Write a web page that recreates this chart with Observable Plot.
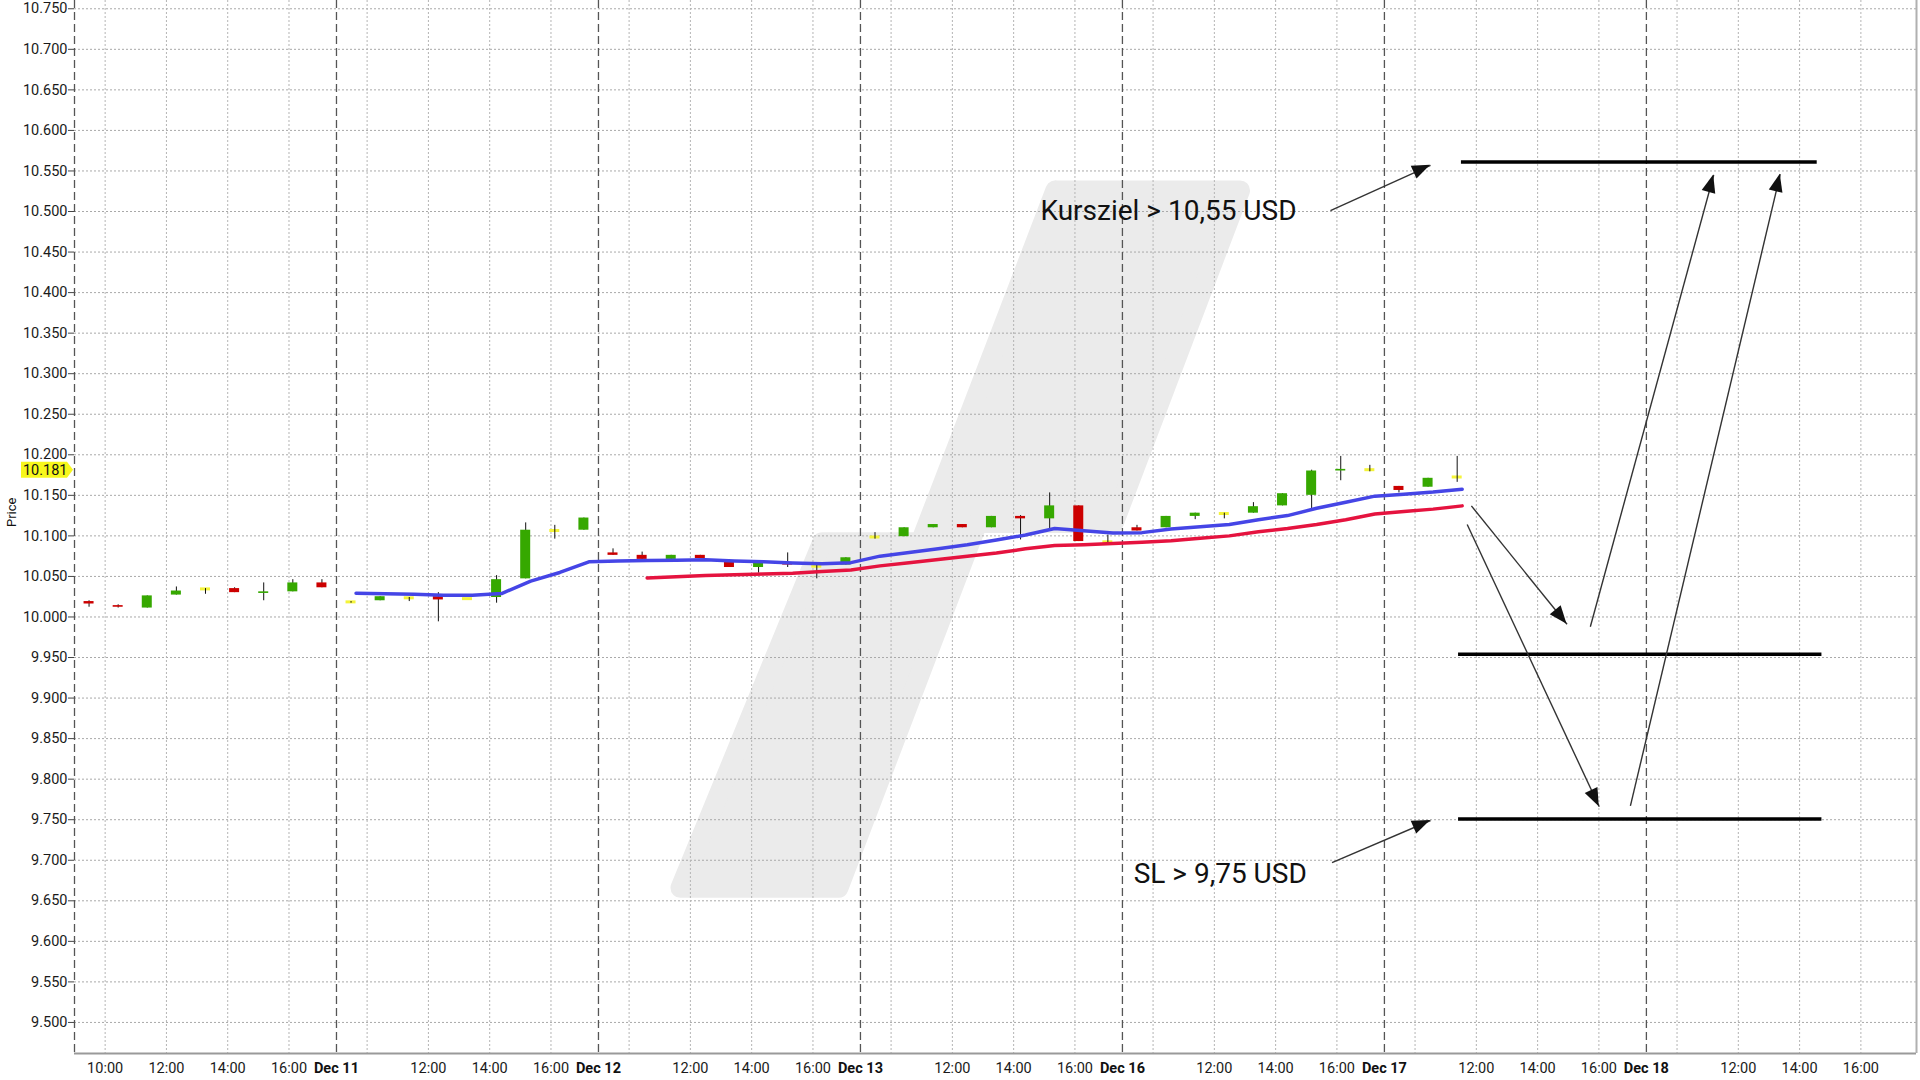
<!DOCTYPE html>
<html>
<head>
<meta charset="utf-8">
<script src="https://cdn.jsdelivr.net/npm/d3@7"></script>
<script src="https://cdn.jsdelivr.net/npm/@observablehq/plot@0.6"></script>
<style>
  html, body { margin: 0; padding: 0; background: #fff; overflow: hidden; }
  svg { display: block; }
</style>
</head>
<body>
<div id="chart"></div>
<script>
// ---------- DATA ----------
const dayLabels = ["Dec 10", "Dec 11", "Dec 12", "Dec 13", "Dec 16", "Dec 17", "Dec 18"];
const hourLabels = ["10:00", "12:00", "14:00", "16:00"];
const hourOfDay = [10, 12, 14, 16];
const SESSION_START = 9;      // session opens 9:00
const SESSION_HOURS = 8.55;   // length of one trading day on the axis
const SLOTS_PER_DAY = 9;      // hourly candles per day

// hourly candles (Dec 10 .. Dec 17)
const open = [
  10.019, 10.014, 10.011, 10.027, 10.034, 10.035, 10.029, 10.031, 10.042,
  10.018, 10.020, 10.023, 10.025, 10.022, 10.024, 10.047, 10.106, 10.107,
  10.079, 10.076, 10.071, 10.076, 10.068, 10.061, 10.066, 10.062, 10.064,
  10.098, 10.099, 10.110, 10.114, 10.110, 10.124, 10.121, 10.137, 10.092,
  10.110, 10.110, 10.124, 10.127, 10.128, 10.137, 10.150, 10.180, 10.181,
  10.161, 10.160, 10.172
];
const high = [
  10.020, 10.015, 10.026, 10.037, 10.035, 10.036, 10.042, 10.046, 10.046,
  10.019, 10.025, 10.024, 10.030, 10.022, 10.051, 10.116, 10.113, 10.122,
  10.084, 10.080, 10.076, 10.076, 10.068, 10.067, 10.079, 10.064, 10.073,
  10.104, 10.110, 10.114, 10.114, 10.124, 10.125, 10.153, 10.137, 10.101,
  10.113, 10.124, 10.128, 10.128, 10.141, 10.152, 10.181, 10.198, 10.187,
  10.161, 10.171, 10.198
];
const low = [
  10.012, 10.011, 10.011, 10.027, 10.028, 10.030, 10.020, 10.031, 10.036,
  10.017, 10.020, 10.019, 9.994, 10.022, 10.017, 10.047, 10.096, 10.107,
  10.076, 10.071, 10.071, 10.072, 10.061, 10.054, 10.061, 10.047, 10.064,
  10.096, 10.099, 10.110, 10.110, 10.110, 10.095, 10.107, 10.093, 10.090,
  10.106, 10.110, 10.120, 10.121, 10.128, 10.137, 10.132, 10.168, 10.179,
  10.153, 10.160, 10.166
];
const close = [
  10.016, 10.012, 10.026, 10.032, 10.034, 10.030, 10.031, 10.042, 10.036,
  10.018, 10.025, 10.023, 10.021, 10.022, 10.046, 10.107, 10.106, 10.122,
  10.076, 10.071, 10.076, 10.072, 10.061, 10.067, 10.064, 10.062, 10.073,
  10.098, 10.110, 10.114, 10.110, 10.124, 10.121, 10.137, 10.093, 10.092,
  10.106, 10.124, 10.128, 10.127, 10.136, 10.152, 10.180, 10.182, 10.181,
  10.156, 10.171, 10.172
];

// moving averages (aligned with candle index, starting at the given index)
const FAST_START = 9;
const smaFast = [
  10.0293, 10.0285, 10.0280, 10.0268, 10.0268, 10.0289, 10.0442, 10.0549, 10.0680,
  10.0690, 10.0695, 10.0700, 10.0705, 10.0690, 10.0680, 10.0665, 10.0655, 10.0670,
  10.0750, 10.0795, 10.0840, 10.0890, 10.0950, 10.1010, 10.1090, 10.1064, 10.1035,
  10.1040, 10.1085, 10.1114, 10.1140, 10.1200, 10.1250, 10.1340, 10.1415, 10.1490,
  10.1514, 10.1540, 10.1576
];
const SLOW_START = 19;
const smaSlow = [
  10.0480, 10.0495, 10.0510, 10.0520, 10.0530, 10.0540, 10.0560, 10.0580,
  10.0630, 10.0670, 10.0710, 10.0750, 10.0790, 10.0840, 10.0880, 10.0890, 10.0905,
  10.0920, 10.0940, 10.0970, 10.1000, 10.1050, 10.1090, 10.1140, 10.1200, 10.1270,
  10.1300, 10.1330, 10.1370
];

const lastPrice = 10.181;

const yTicks = [
  9.50, 9.55, 9.60, 9.65, 9.70, 9.75, 9.80, 9.85, 9.90, 9.95,
  10.00, 10.05, 10.10, 10.15, 10.20, 10.25, 10.30, 10.35, 10.40, 10.45,
  10.50, 10.55, 10.60, 10.65, 10.70, 10.75
];

// horizontal level lines (price, from day-position, to day-position)
const levelPrice = [10.561, 9.954, 9.751];
const levelFrom  = [5.294, 5.283, 5.283];
const levelTo    = [6.652, 6.670, 6.670];

// annotation texts
const noteText  = ["Kursziel > 10,55 USD", "SL > 9,75 USD"];
const noteX     = [3.687, 4.043];
const noteY     = [10.5006, 9.683];

// arrows: [day-position, price]
const arrowFrom = [[4.794, 10.501], [4.800, 9.697], [5.332, 10.137], [5.316, 10.114], [5.786, 9.988], [5.939, 9.767]];
const arrowTo   = [[5.176, 10.557], [5.176, 9.749], [5.697, 9.991], [5.820, 9.766], [6.257, 10.545], [6.511, 10.546]];

// watermark outline (day-position, price)
const watermarkX = [3.744, 4.449, 3.967, 3.447, 2.916, 2.313, 2.854, 3.229, 3.744];
const watermarkY = [10.526, 10.526, 10.116, 10.116, 9.666, 9.666, 10.092, 10.092, 10.526];

// ---------- DERIVED TABLES ----------
const candles = open.map((o, i) => ({
  x: Math.floor(i / SLOTS_PER_DAY) + (i % SLOTS_PER_DAY + 0.5) / SLOTS_PER_DAY,
  o, h: high[i], l: low[i], c: close[i]
}));
const fastLine = smaFast.map((v, j) => ({x: candles[FAST_START + j].x, v}));
const slowLine = smaSlow.map((v, j) => ({x: candles[SLOW_START + j].x, v}));

const dayTicks = dayLabels.map((label, d) => ({x: d, label}));
const hourTicks = [];
dayLabels.forEach((_, d) => hourLabels.forEach((label, k) => {
  hourTicks.push({x: d + (hourOfDay[k] - SESSION_START) / SESSION_HOURS, label, show: d === 0 || k > 0});
}));
const levels = levelPrice.map((p, i) => ({p, x1: levelFrom[i], x2: levelTo[i]}));
const notes = noteText.map((t, i) => ({t, x: noteX[i], y: noteY[i]}));
const arrows = arrowFrom.map((f, i) => ({x1: f[0], y1: f[1], x2: arrowTo[i][0], y2: arrowTo[i][1]}));
const watermark = watermarkX.map((x, i) => ({x, y: watermarkY[i]}));

const X_DOMAIN = [0, 7.031];
const Y_DOMAIN = [9.4617, 10.7602];

const GREEN = "#36a800", RED = "#cc0000", YELLOW = "#f4f43a";

// custom marks drawn through Plot's scales
function arrowHeads(index, scales) {
  const sx = scales.x || scales.scales.x, sy = scales.y || scales.scales.y;
  const g = d3.create("svg:g");
  for (const a of arrows) {
    const x1 = sx(a.x1), y1 = sy(a.y1), x2 = sx(a.x2), y2 = sy(a.y2);
    const ang = Math.atan2(y2 - y1, x2 - x1);
    const L = 18, W = 7;
    const bx = x2 - L * Math.cos(ang), by = y2 - L * Math.sin(ang);
    const px = -Math.sin(ang) * W, py = Math.cos(ang) * W;
    g.append("path")
      .attr("d", `M${x2},${y2}L${bx + px},${by + py}L${bx - px},${by - py}Z`)
      .attr("fill", "#111");
  }
  return g.node();
}
function priceTag(index, scales, values, dimensions) {
  const sy = scales.y || scales.scales.y;
  const y = sy(lastPrice);
  const x0 = dimensions.marginLeft;
  const g = d3.create("svg:g");
  g.append("path")
    .attr("d", `M${x0 - 53},${y - 8}H${x0 - 7}L${x0 - 1},${y}L${x0 - 7},${y + 8}H${x0 - 53}Z`)
    .attr("fill", "#f7f71c");
  return g.node();
}

const chart = Plot.plot({
  width: 1920,
  height: 1080,
  marginLeft: 74,
  marginRight: 4,
  marginTop: 0,
  marginBottom: 27,
  style: {fontFamily: "Roboto, 'DejaVu Sans', sans-serif", fontSize: "14.5px", color: "#1a1a1a", background: "#fff", overflow: "visible"},
  x: {domain: X_DOMAIN, axis: null},
  y: {domain: Y_DOMAIN},
  marks: [
    // watermark
    Plot.line(watermark, {x: "x", y: "y", fill: "#ebebeb", stroke: "#ebebeb", strokeWidth: 20, strokeLinejoin: "round", strokeLinecap: "round"}),
    // grid
    Plot.ruleY(yTicks, {stroke: "#a9a9a9", strokeDasharray: "2,2", strokeWidth: 1}),
    Plot.ruleX(hourTicks, {x: "x", stroke: "#b4b4b4", strokeDasharray: "2,2", strokeWidth: 1}),
    Plot.ruleX(dayTicks, {x: "x", stroke: "#555", strokeDasharray: "8,4", strokeWidth: 1.3}),
    // frame lines
    Plot.ruleY([Y_DOMAIN[0]], {stroke: "#9a9a9a", strokeWidth: 2}),
    Plot.ruleX([X_DOMAIN[1]], {stroke: "#b0b0b0", strokeWidth: 2}),
    // candles: doji bodies, wicks, bodies
    Plot.rect(candles.filter(d => d.c === d.o), {x1: "x", x2: "x", y1: "o", y2: "c", fill: YELLOW, insetLeft: -5, insetRight: -5, insetTop: -1.5, insetBottom: -1.5}),
    Plot.ruleX(candles, {x: "x", y1: "l", y2: "h", stroke: "#111", strokeWidth: 1}),
    Plot.rect(candles.filter(d => d.c > d.o), {x1: "x", x2: "x", y1: "o", y2: "c", fill: GREEN, insetLeft: -5, insetRight: -5}),
    Plot.rect(candles.filter(d => d.c < d.o), {x1: "x", x2: "x", y1: "o", y2: "c", fill: RED, insetLeft: -5, insetRight: -5}),
    // moving averages
    Plot.line(slowLine, {x: "x", y: "v", stroke: "#e5133f", strokeWidth: 3.5, dx: 5}),
    Plot.line(fastLine, {x: "x", y: "v", stroke: "#4545e6", strokeWidth: 3.5, dx: 5}),
    // level lines
    Plot.ruleY(levels, {y: "p", x1: "x1", x2: "x2", stroke: "#000", strokeWidth: 3.5}),
    // arrows
    Plot.link(arrows, {x1: "x1", y1: "y1", x2: "x2", y2: "y2", stroke: "#333", strokeWidth: 1.4}),
    arrowHeads,
    // annotation texts
    Plot.text(notes, {x: "x", y: "y", text: "t", textAnchor: "start", fontSize: 28, fill: "#111", fontFamily: "Roboto, sans-serif"}),
    // y axis
    Plot.axisY({ticks: yTicks, tickFormat: d => d.toFixed(3), tickSize: 6, tickPadding: 1, label: null, stroke: "#444"}),
    priceTag,
    Plot.text([lastPrice], {y: d => d, text: d => d.toFixed(3), frameAnchor: "left", dx: -7, textAnchor: "end", fontSize: 14.5, fill: "#111"}),
    Plot.text(["Price"], {text: d => d, frameAnchor: "left", dx: -63, rotate: -90, fontSize: 13, fill: "#111"}),
    // x axis labels
    Plot.text(hourTicks.filter(d => d.show), {x: "x", text: "label", frameAnchor: "bottom", dy: 19, fontSize: 14.5, fill: "#1a1a1a"}),
    Plot.text(dayTicks.filter(d => d.x > 0), {x: "x", text: "label", frameAnchor: "bottom", dy: 19, fontSize: 14.5, fontWeight: "bold", fill: "#111"})
  ]
});
document.getElementById("chart").appendChild(chart);
</script>
</body>
</html>
